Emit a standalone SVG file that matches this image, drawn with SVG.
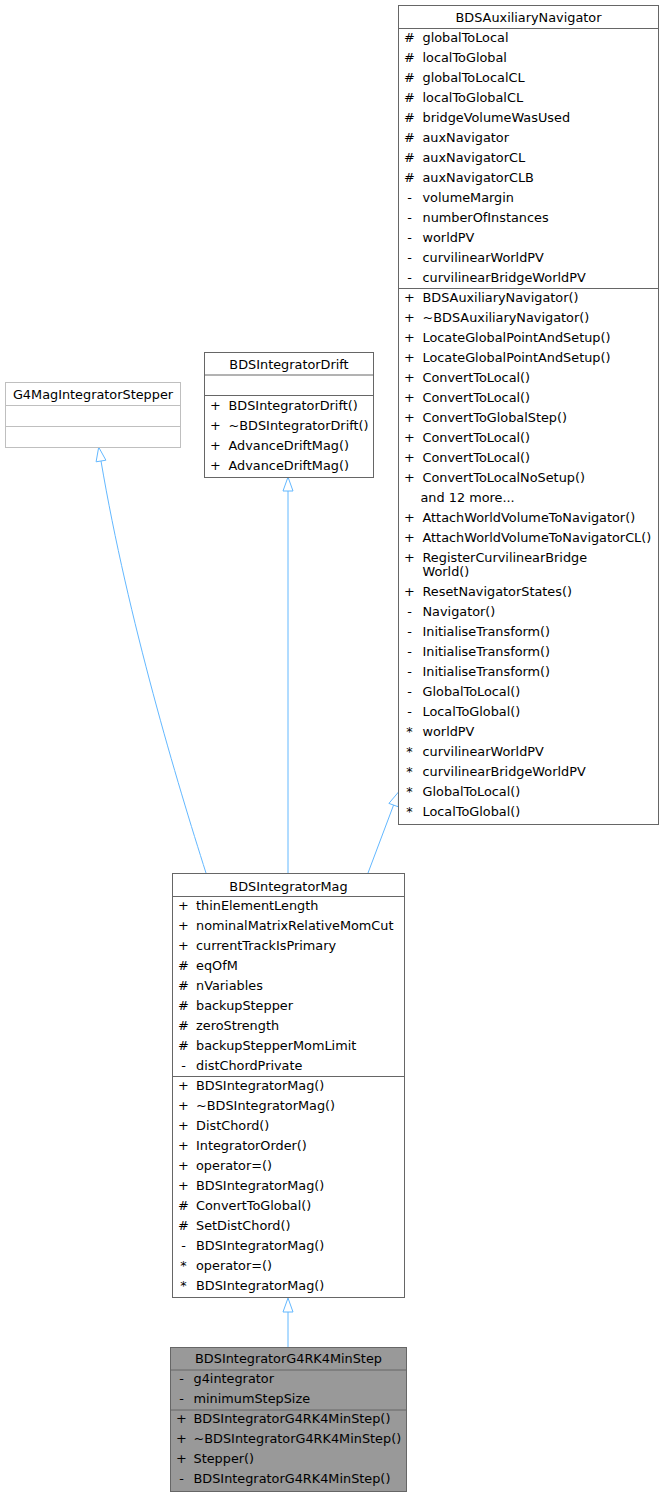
<svg xmlns="http://www.w3.org/2000/svg" width="665" height="1497" viewBox="0 0 665 1497">
<style>
text{font-family:"DejaVu Sans","Liberation Sans",sans-serif;font-size:12.85px;fill:#000}
.t{text-anchor:middle}
.s{text-anchor:middle}
.box{fill:#fff;stroke:#666;stroke-width:1}
.lbox{fill:#fff;stroke:#bfbfbf;stroke-width:1}
.cur{fill:#999;stroke:#666;stroke-width:1}
.sep{stroke:#666;stroke-width:1}
.lsep{stroke:#bfbfbf;stroke-width:1}
.edge{fill:none;stroke:#63b8ff;stroke-width:1}
.ah{fill:#fff;stroke:#63b8ff;stroke-width:1}
</style>
<g id="connectors">
<path class="edge" d="M206,873 C178,785 128,620 101,461"/>
<polygon class="ah" points="98.7,447.2 105.9,460.2 96.1,461.8"/>
<path class="edge" d="M288,873 L288,491"/>
<polygon class="ah" points="288,477 293,491 283,491"/>
<path class="edge" d="M368,873 L393.6,805"/>
<polygon class="ah" points="398.5,792 398.3,806.8 388.9,803.4"/>
<path class="edge" d="M288,1347 L288,1312"/>
<polygon class="ah" points="288,1298 293,1312 283,1312"/>
</g>
<g id="BDSAuxiliaryNavigator">
<rect class="box" x="398.5" y="5.5" width="260" height="819"/>
<line class="sep" x1="398.5" y1="28.5" x2="658.5" y2="28.5"/>
<line class="sep" x1="398.5" y1="288.5" x2="658.5" y2="288.5"/>
<text class="t" x="528.5" y="21.5">BDSAuxiliaryNavigator</text>
<g>
<text class="s" x="409.5" y="41.5">#</text><text x="422.5" y="41.5">globalToLocal</text>
<text class="s" x="409.5" y="61.5">#</text><text x="422.5" y="61.5">localToGlobal</text>
<text class="s" x="409.5" y="81.5">#</text><text x="422.5" y="81.5">globalToLocalCL</text>
<text class="s" x="409.5" y="101.5">#</text><text x="422.5" y="101.5">localToGlobalCL</text>
<text class="s" x="409.5" y="121.5">#</text><text x="422.5" y="121.5">bridgeVolumeWasUsed</text>
<text class="s" x="409.5" y="141.5">#</text><text x="422.5" y="141.5">auxNavigator</text>
<text class="s" x="409.5" y="161.5">#</text><text x="422.5" y="161.5">auxNavigatorCL</text>
<text class="s" x="409.5" y="181.5">#</text><text x="422.5" y="181.5">auxNavigatorCLB</text>
<text class="s" x="409.5" y="201.5">-</text><text x="422.5" y="201.5">volumeMargin</text>
<text class="s" x="409.5" y="221.5">-</text><text x="422.5" y="221.5">numberOfInstances</text>
<text class="s" x="409.5" y="241.5">-</text><text x="422.5" y="241.5">worldPV</text>
<text class="s" x="409.5" y="261.5">-</text><text x="422.5" y="261.5">curvilinearWorldPV</text>
<text class="s" x="409.5" y="281.5">-</text><text x="422.5" y="281.5">curvilinearBridgeWorldPV</text>
</g>
<g>
<text class="s" x="409.5" y="301.5">+</text><text x="422.5" y="301.5">BDSAuxiliaryNavigator()</text>
<text class="s" x="409.5" y="321.5">+</text><text x="422.5" y="321.5">~BDSAuxiliaryNavigator()</text>
<text class="s" x="409.5" y="341.5">+</text><text x="422.5" y="341.5">LocateGlobalPointAndSetup()</text>
<text class="s" x="409.5" y="361.5">+</text><text x="422.5" y="361.5">LocateGlobalPointAndSetup()</text>
<text class="s" x="409.5" y="381.5">+</text><text x="422.5" y="381.5">ConvertToLocal()</text>
<text class="s" x="409.5" y="401.5">+</text><text x="422.5" y="401.5">ConvertToLocal()</text>
<text class="s" x="409.5" y="421.5">+</text><text x="422.5" y="421.5">ConvertToGlobalStep()</text>
<text class="s" x="409.5" y="441.5">+</text><text x="422.5" y="441.5">ConvertToLocal()</text>
<text class="s" x="409.5" y="461.5">+</text><text x="422.5" y="461.5">ConvertToLocal()</text>
<text class="s" x="409.5" y="481.5">+</text><text x="422.5" y="481.5">ConvertToLocalNoSetup()</text>
<text x="420.5" y="501.5">and 12 more...</text>
<text class="s" x="409.5" y="521.5">+</text><text x="422.5" y="521.5">AttachWorldVolumeToNavigator()</text>
<text class="s" x="409.5" y="541.5">+</text><text x="422.5" y="541.5">AttachWorldVolumeToNavigatorCL()</text>
<text class="s" x="409.5" y="561.5">+</text><text x="422.5" y="561.5">RegisterCurvilinearBridge</text>
<text x="422.5" y="576">World()</text>
<text class="s" x="409.5" y="596">+</text><text x="422.5" y="596">ResetNavigatorStates()</text>
<text class="s" x="409.5" y="616">-</text><text x="422.5" y="616">Navigator()</text>
<text class="s" x="409.5" y="636">-</text><text x="422.5" y="636">InitialiseTransform()</text>
<text class="s" x="409.5" y="656">-</text><text x="422.5" y="656">InitialiseTransform()</text>
<text class="s" x="409.5" y="676">-</text><text x="422.5" y="676">InitialiseTransform()</text>
<text class="s" x="409.5" y="696">-</text><text x="422.5" y="696">GlobalToLocal()</text>
<text class="s" x="409.5" y="716">-</text><text x="422.5" y="716">LocalToGlobal()</text>
<text class="s" x="409.5" y="736">*</text><text x="422.5" y="736">worldPV</text>
<text class="s" x="409.5" y="756">*</text><text x="422.5" y="756">curvilinearWorldPV</text>
<text class="s" x="409.5" y="776">*</text><text x="422.5" y="776">curvilinearBridgeWorldPV</text>
<text class="s" x="409.5" y="796">*</text><text x="422.5" y="796">GlobalToLocal()</text>
<text class="s" x="409.5" y="816">*</text><text x="422.5" y="816">LocalToGlobal()</text>
</g>
</g>
<g id="G4MagIntegratorStepper">
<rect class="lbox" x="5.5" y="382.5" width="175" height="65"/>
<line class="lsep" x1="5.5" y1="405.5" x2="180.5" y2="405.5"/>
<line class="lsep" x1="5.5" y1="426.5" x2="180.5" y2="426.5"/>
<text class="t" x="93" y="399">G4MagIntegratorStepper</text>
</g>
<g id="BDSIntegratorDrift">
<rect class="box" x="204.5" y="352.5" width="169" height="125"/>
<line class="sep" x1="204.5" y1="375" x2="373.5" y2="375"/>
<line class="sep" x1="204.5" y1="395.5" x2="373.5" y2="395.5"/>
<text class="t" x="289" y="369">BDSIntegratorDrift</text>
<text class="s" x="215.5" y="409.5">+</text><text x="228.5" y="409.5">BDSIntegratorDrift()</text>
<text class="s" x="215.5" y="429.5">+</text><text x="228.5" y="429.5">~BDSIntegratorDrift()</text>
<text class="s" x="215.5" y="449.5">+</text><text x="228.5" y="449.5">AdvanceDriftMag()</text>
<text class="s" x="215.5" y="469.5">+</text><text x="228.5" y="469.5">AdvanceDriftMag()</text>
</g>
<g id="BDSIntegratorMag">
<rect class="box" x="172.5" y="873.5" width="232" height="424"/>
<line class="sep" x1="172.5" y1="896.5" x2="404.5" y2="896.5"/>
<line class="sep" x1="172.5" y1="1076.5" x2="404.5" y2="1076.5"/>
<text class="t" x="288.5" y="890.5">BDSIntegratorMag</text>
<text class="s" x="183.5" y="910">+</text><text x="196" y="910">thinElementLength</text>
<text class="s" x="183.5" y="930">+</text><text x="196" y="930">nominalMatrixRelativeMomCut</text>
<text class="s" x="183.5" y="950">+</text><text x="196" y="950">currentTrackIsPrimary</text>
<text class="s" x="183.5" y="970">#</text><text x="196" y="970">eqOfM</text>
<text class="s" x="183.5" y="990">#</text><text x="196" y="990">nVariables</text>
<text class="s" x="183.5" y="1010">#</text><text x="196" y="1010">backupStepper</text>
<text class="s" x="183.5" y="1030">#</text><text x="196" y="1030">zeroStrength</text>
<text class="s" x="183.5" y="1050">#</text><text x="196" y="1050">backupStepperMomLimit</text>
<text class="s" x="183.5" y="1070">-</text><text x="196" y="1070">distChordPrivate</text>
<text class="s" x="183.5" y="1090">+</text><text x="196" y="1090">BDSIntegratorMag()</text>
<text class="s" x="183.5" y="1110">+</text><text x="196" y="1110">~BDSIntegratorMag()</text>
<text class="s" x="183.5" y="1130">+</text><text x="196" y="1130">DistChord()</text>
<text class="s" x="183.5" y="1150">+</text><text x="196" y="1150">IntegratorOrder()</text>
<text class="s" x="183.5" y="1170">+</text><text x="196" y="1170">operator=()</text>
<text class="s" x="183.5" y="1190">+</text><text x="196" y="1190">BDSIntegratorMag()</text>
<text class="s" x="183.5" y="1210">#</text><text x="196" y="1210">ConvertToGlobal()</text>
<text class="s" x="183.5" y="1230">#</text><text x="196" y="1230">SetDistChord()</text>
<text class="s" x="183.5" y="1250">-</text><text x="196" y="1250">BDSIntegratorMag()</text>
<text class="s" x="183.5" y="1270">*</text><text x="196" y="1270">operator=()</text>
<text class="s" x="183.5" y="1290">*</text><text x="196" y="1290">BDSIntegratorMag()</text>
</g>
<g id="BDSIntegratorG4RK4MinStep">
<rect class="cur" x="170.5" y="1347.5" width="236" height="144"/>
<line class="sep" x1="170.5" y1="1370" x2="406.5" y2="1370"/>
<line class="sep" x1="170.5" y1="1410" x2="406.5" y2="1410"/>
<text class="t" x="288.5" y="1363">BDSIntegratorG4RK4MinStep</text>
<text class="s" x="181.5" y="1382.5">-</text><text x="193.5" y="1382.5">g4integrator</text>
<text class="s" x="181.5" y="1402.5">-</text><text x="193.5" y="1402.5">minimumStepSize</text>
<text class="s" x="181.5" y="1422.5">+</text><text x="193.5" y="1422.5">BDSIntegratorG4RK4MinStep()</text>
<text class="s" x="181.5" y="1442.5">+</text><text x="193.5" y="1442.5">~BDSIntegratorG4RK4MinStep()</text>
<text class="s" x="181.5" y="1462.5">+</text><text x="193.5" y="1462.5">Stepper()</text>
<text class="s" x="181.5" y="1482.5">-</text><text x="193.5" y="1482.5">BDSIntegratorG4RK4MinStep()</text>
</g>
</svg>
